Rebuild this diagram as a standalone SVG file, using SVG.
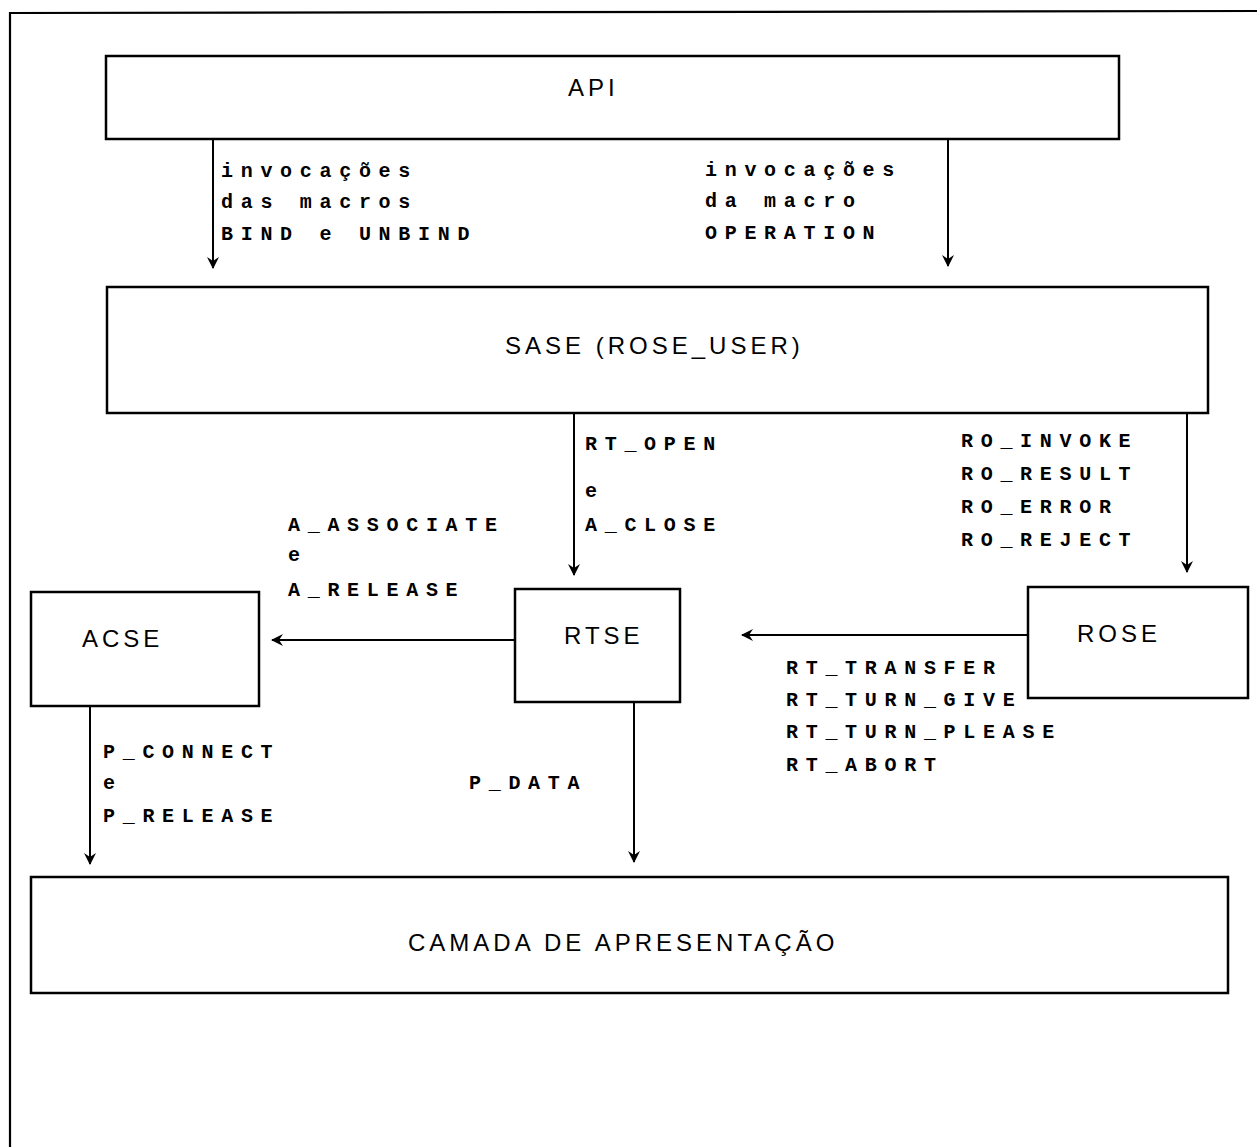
<svg xmlns="http://www.w3.org/2000/svg" width="1257" height="1147" viewBox="0 0 1257 1147">
<defs>
<style>
.box{fill:none;stroke:#000;stroke-width:2.5}
.frame{fill:none;stroke:#000;stroke-width:2.2}
.conn{fill:none;stroke:#000;stroke-width:2;marker-end:url(#ah)}
.node{font-family:"Liberation Sans",Arial,sans-serif;font-size:24px;fill:#000;letter-spacing:4px}
.lbl{font-family:"Liberation Mono","Courier New",monospace;font-size:20px;font-weight:bold;fill:#000;letter-spacing:7.7px}
</style>
<marker id="ah" viewBox="0 0 12 12" refX="11" refY="6" markerWidth="12" markerHeight="12" markerUnits="userSpaceOnUse" orient="auto">
<path d="M0,0 L12,6 L0,12 L4,6 z" fill="#000"/>
</marker>
</defs>
<rect width="1257" height="1147" fill="#fff"/>
<polyline class="frame" points="10,1147 10,13 1257,11"/>

<g id="api">
<rect class="box" x="106" y="56" width="1013" height="83"/>
<text class="node" x="568" y="96">API</text>
</g>
<g id="sase">
<rect class="box" x="107" y="287" width="1101" height="126"/>
<text class="node" x="505" y="354">SASE (ROSE_USER)</text>
</g>
<g id="acse">
<rect class="box" x="31" y="592" width="228" height="114"/>
<text class="node" x="82" y="647">ACSE</text>
</g>
<g id="rtse">
<rect class="box" x="515" y="589" width="165" height="113"/>
<text class="node" x="564" y="644">RTSE</text>
</g>
<g id="rose">
<rect class="box" x="1028" y="587" width="220" height="111"/>
<text class="node" x="1077" y="642">ROSE</text>
</g>
<g id="camada">
<rect class="box" x="31" y="877" width="1197" height="116"/>
<text class="node" x="408" y="951">CAMADA DE APRESENTAÇÃO</text>
</g>

<g id="connectors">
<line class="conn" x1="213" y1="139" x2="213" y2="268"/>
<line class="conn" x1="948" y1="139" x2="948" y2="266"/>
<line class="conn" x1="574" y1="413" x2="574" y2="575"/>
<line class="conn" x1="1187" y1="413" x2="1187" y2="572"/>
<line class="conn" x1="515" y1="640" x2="272" y2="640"/>
<line class="conn" x1="1028" y1="635" x2="742" y2="635"/>
<line class="conn" x1="90" y1="706" x2="90" y2="864"/>
<line class="conn" x1="634" y1="702" x2="634" y2="862"/>
</g>

<g id="labels">
<text class="lbl" x="221" y="177">invocações</text>
<text class="lbl" x="221" y="208">das macros</text>
<text class="lbl" x="221" y="240">BIND e UNBIND</text>
<text class="lbl" x="705" y="176">invocações</text>
<text class="lbl" x="705" y="207">da macro</text>
<text class="lbl" x="705" y="239">OPERATION</text>
<text class="lbl" x="585" y="450">RT_OPEN</text>
<text class="lbl" x="585" y="497">e</text>
<text class="lbl" x="585" y="531">A_CLOSE</text>
<text class="lbl" x="288" y="531">A_ASSOCIATE</text>
<text class="lbl" x="288" y="561">e</text>
<text class="lbl" x="288" y="596">A_RELEASE</text>
<text class="lbl" x="961" y="447">RO_INVOKE</text>
<text class="lbl" x="961" y="480">RO_RESULT</text>
<text class="lbl" x="961" y="513">RO_ERROR</text>
<text class="lbl" x="961" y="546">RO_REJECT</text>
<text class="lbl" x="786" y="674">RT_TRANSFER</text>
<text class="lbl" x="786" y="706">RT_TURN_GIVE</text>
<text class="lbl" x="786" y="738">RT_TURN_PLEASE</text>
<text class="lbl" x="786" y="771">RT_ABORT</text>
<text class="lbl" x="103" y="758">P_CONNECT</text>
<text class="lbl" x="103" y="789">e</text>
<text class="lbl" x="103" y="822">P_RELEASE</text>
<text class="lbl" x="469" y="789">P_DATA</text>
</g>
</svg>
